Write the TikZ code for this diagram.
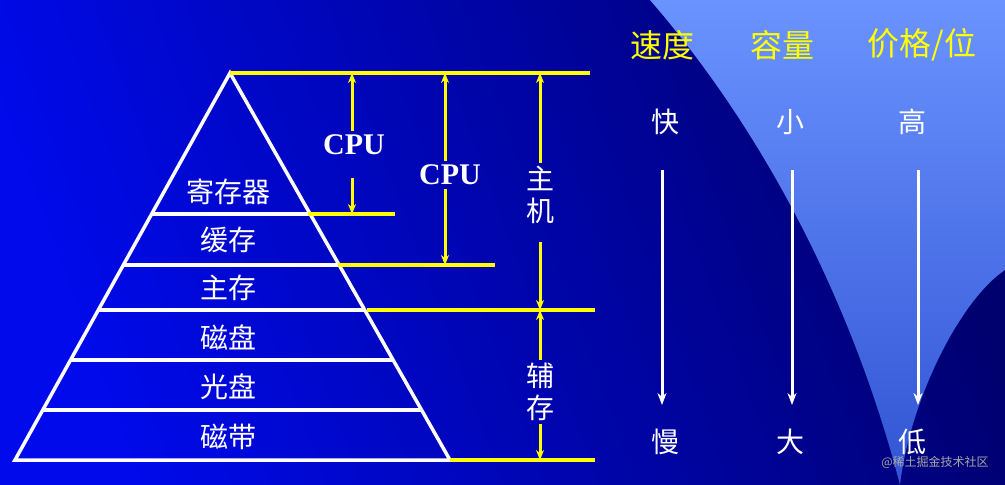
\documentclass[tikz,border=0pt]{standalone}
\usepackage{fontspec}
\setmainfont{Liberation Serif}
\newfontfamily\cjk{Noto Sans CJK SC}
\definecolor{bgleft}{RGB}{0,10,235}
\definecolor{bgright}{RGB}{0,0,110}
\definecolor{wedge}{RGB}{70,120,255}
\definecolor{ylw}{RGB}{255,255,0}
\usetikzlibrary{positioning,arrows.meta}
\begin{document}
\begin{tikzpicture}[
x=1pt, y=-1pt,
layer/.style={font=\cjk\fontsize{28}{32}\selectfont, text=white, align=center},
head/.style={font=\cjk\fontsize{32}{34}\selectfont, text=ylw},
cpu/.style={font=\bfseries\fontsize{30}{32}\selectfont, text=white},
wline/.style={draw=white, line width=3.5pt},
yline/.style={draw=ylw, line width=3.5pt},
yarrow/.style={draw=ylw, line width=3pt, -{Stealth[length=10pt,width=8pt]}},
warrow/.style={draw=white, line width=3pt, -{Stealth[length=12pt,width=9pt]}},
]
% background
\shade[left color=bgleft, right color=bgright, shading angle=110] (0,0) rectangle (1005,485);
\shade[top color=wedge!80, bottom color=wedge!70!bgright]
  (650,0) -- (1005,0) -- (1005,270) .. controls (960,300) and (910,400) .. (900,485)
  .. controls (860,330) and (780,150) .. (650,0) -- cycle;
\useasboundingbox (0,0) rectangle (1005,485);

% pyramid
\coordinate (apex) at (230,73);
\coordinate (bl) at (15,460);
\coordinate (br) at (450,460);
\draw[wline, line join=miter] (bl) -- (apex) -- (br) -- cycle;
\foreach \y in {214,265,310,360,410}
  \draw[wline] ({230-(\y-73)/387*215},\y) -- ({230+(\y-73)/387*220},\y);

\foreach \t/\y in {寄存器/192, 缓存/240, 主存/288, 磁盘/337, 光盘/387, 磁带/437}
  \node[layer] at (228,\y) {\t};

% yellow levels
\draw[yline] (apex) -- (590,73);
\draw[yline] (308,214) -- (395,214);
\draw[yline] (338,265) -- (495,265);
\draw[yline] (367,310) -- (595,310);
\draw[yline] (br) -- (595,460);

\node[cpu] (cpuA) at (354,145) {CPU};
\node[cpu] (cpuB) at (450,175) {CPU};
\node[layer] (host) at (540,195) {主\\机};
\node[layer] (aux) at (540,392) {辅\\存};

\draw[yarrow] (cpuA.north -| 352,0) -- (352,73);
\draw[yarrow] (352,178) -- (352,214);
\draw[yarrow] (cpuB.north -| 445,0) -- (445,73);
\draw[yarrow] (cpuB.south -| 445,0) -- (445,265);
\draw[yarrow] (host.north) -- (540,73);
\draw[yarrow] (host.south) ++(0,15) -- (540,310);
\draw[yarrow] (aux.north) -- (540,310);
\draw[yarrow] (aux.south) -- (540,460);

% right table
\node[head] at (662,45) {速度};
\node[head] at (782,45) {容量};
\node[head] at (922,45) {价格/位};
\foreach \x/\a/\b in {665/快/慢, 790/小/大, 912/高/低}
{
  \node[layer] (top\x) at (\x,122) {\a};
  \node[layer] (bot\x) at (\x,442) {\b};
}
\draw[warrow] (662,170) -- (662,405);
\draw[warrow] (792,170) -- (792,405);
\draw[warrow] (918,170) -- (918,405);

\node[font=\cjk\fontsize{12}{14}\selectfont, text=gray!70] at (935,462) {@稀土掘金技术社区};
\end{tikzpicture}
\end{document}
